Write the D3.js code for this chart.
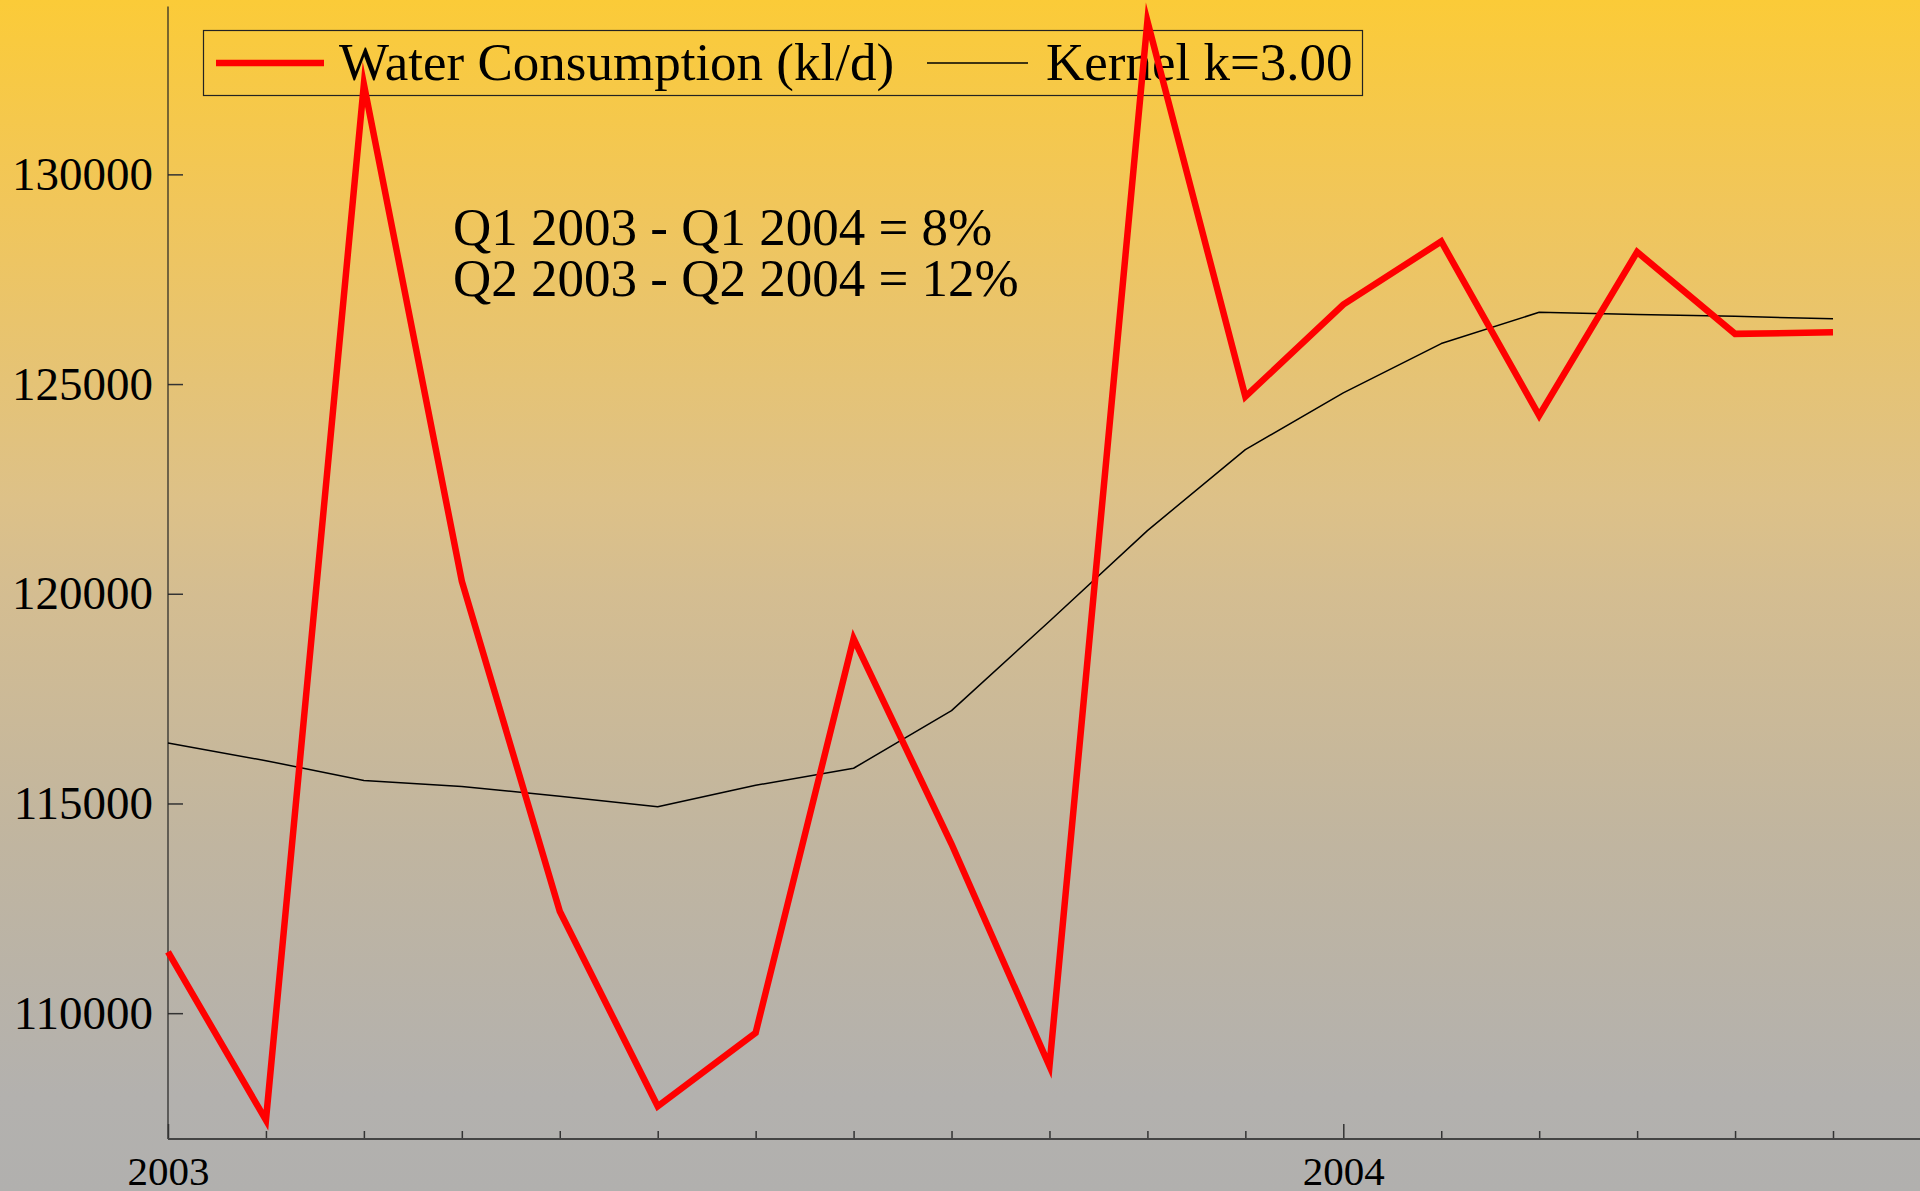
<!DOCTYPE html>
<html>
<head>
<meta charset="utf-8">
<script src="https://cdn.jsdelivr.net/npm/d3@7"></script>
<style>
  html, body { margin: 0; padding: 0; background: #b1b0ae; }
  svg { display: block; }
  text { font-family: "Liberation Serif", "DejaVu Serif", serif; fill: #000; }
</style>
</head>
<body>
<svg id="chart" width="1920" height="1191"></svg>
<script>
// ---- data ----
const months = ["2003-01","2003-02","2003-03","2003-04","2003-05","2003-06",
                "2003-07","2003-08","2003-09","2003-10","2003-11","2003-12",
                "2004-01","2004-02","2004-03","2004-04","2004-05","2004-06"];
const water = [111462, 107450, 132148, 120300, 112430, 107780,
               109533, 118929, 114034, 108740, 133650, 124700,
               126896, 128400, 124250, 128150, 126197, 126235];
const kernel = [116440, 116020, 115550, 115405, 115171, 114920,
                115434, 115840, 117213, 119346, 121506, 123438,
                124790, 125966, 126712, 126657, 126617, 126555];
const yTicks = [110000, 115000, 120000, 125000, 130000];
const seriesNames = ["Water Consumption (kl/d)", "Kernel k=3.00"];
const notes = ["Q1 2003 - Q1 2004 = 8%", "Q2 2003 - Q2 2004 = 12%"];

// ---- layout ----
const W = 1920, H = 1191;
const svg = d3.select("#chart");

const defs = svg.append("defs");
const grad = defs.append("linearGradient").attr("id", "bg")
  .attr("x1", 0).attr("y1", 0).attr("x2", 0).attr("y2", 1);
[[0, "#fbcb38"], [0.17, "#f1c65a"], [0.42, "#ddc188"], [0.5, "#d4bd91"],
 [0.71, "#c0b5a0"], [0.92, "#b3b1ae"], [1, "#b1b0ae"]]
  .forEach(([o, c]) => grad.append("stop").attr("offset", o).attr("stop-color", c));
svg.append("rect").attr("width", W).attr("height", H).attr("fill", "url(#bg)");

const plotLeft = 168, plotXEnd = 1833, plotBottom = 1139, plotTop = 6.6;
const x = d3.scaleLinear().domain([0, months.length - 1]).range([plotLeft, plotXEnd]);
const y = d3.scaleLinear().domain([107000, 134000]).range([plotBottom, plotTop]);

// y axis
const yAxis = d3.axisLeft(y).tickValues(yTicks).tickFormat(d3.format("d"))
  .tickSizeInner(-15).tickSizeOuter(0).tickPadding(15);
const gy = svg.append("g").attr("transform", `translate(${plotLeft},0)`).call(yAxis);
gy.select(".domain").remove();
gy.selectAll(".tick line").attr("stroke", "#333").attr("stroke-width", 1.5);
gy.selectAll(".tick text").style("font-family", '"Liberation Serif", serif')
  .style("font-size", "47px").attr("fill", "#000");
svg.append("line").attr("x1", plotLeft).attr("x2", plotLeft).attr("y1", plotTop).attr("y2", plotBottom)
  .attr("stroke", "#222").attr("stroke-width", 1.2);

// x axis
const xAxis = d3.axisBottom(x).tickValues(d3.range(months.length))
  .tickFormat(i => months[i].endsWith("-01") ? months[i].slice(0, 4) : "")
  .tickSizeInner(-8).tickSizeOuter(0).tickPadding(17);
const gx = svg.append("g").attr("transform", `translate(0,${plotBottom})`).call(xAxis);
gx.select(".domain").remove();
gx.selectAll(".tick line").attr("stroke", "#333").attr("stroke-width", 1.5)
  .attr("y2", i => months[i].endsWith("-01") ? -15 : -8);
gx.selectAll(".tick text").style("font-family", '"Liberation Serif", serif')
  .style("font-size", "41px").attr("fill", "#000");
svg.append("line").attr("x1", plotLeft).attr("x2", W).attr("y1", plotBottom).attr("y2", plotBottom)
  .attr("stroke", "#444").attr("stroke-width", 2);

// legend
svg.append("rect").attr("x", 203.5).attr("y", 30.5).attr("width", 1159).attr("height", 65)
  .attr("fill", "none").attr("stroke", "#222").attr("stroke-width", 1.2);
svg.append("line").attr("x1", 216).attr("x2", 324).attr("y1", 63).attr("y2", 63)
  .attr("stroke", "#ff0000").attr("stroke-width", 6.5);
svg.append("text").attr("x", 339).attr("y", 80).style("font-size", "53px").text(seriesNames[0]);
svg.append("line").attr("x1", 927).attr("x2", 1028).attr("y1", 63).attr("y2", 63)
  .attr("stroke", "#000").attr("stroke-width", 1.5);
svg.append("text").attr("x", 1046).attr("y", 80).style("font-size", "53px").text(seriesNames[1]);

// annotations
notes.forEach((t, i) => svg.append("text").attr("x", 453).attr("y", 245 + i * 51)
  .style("font-size", "53px").text(t));

// lines
const line = d3.line().x((d, i) => x(i)).y(d => y(d));
svg.append("path").datum(kernel).attr("d", line).attr("fill", "none")
  .attr("stroke", "#000").attr("stroke-width", 1.5).attr("stroke-linejoin", "round");
svg.append("path").datum(water).attr("d", line).attr("fill", "none")
  .attr("stroke", "#ff0000").attr("stroke-width", 6.5)
  .attr("stroke-linejoin", "miter").attr("stroke-miterlimit", 12);
</script>
</body>
</html>
